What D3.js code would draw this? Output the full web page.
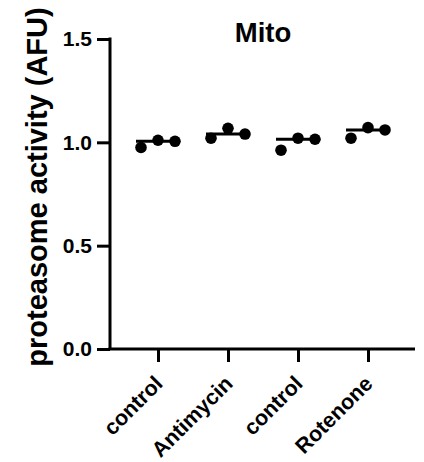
<!DOCTYPE html>
<html lang="en">
<head>
    <meta charset="UTF-8">
    <title>Mito proteasome activity</title>
    <script src="https://d3js.org/d3.v7.min.js"></script>
    <style>
        body {
            margin: 0;
            background: #fff;
            font-family: Arial, "Liberation Sans", sans-serif;
        }
        text {
            font-weight: bold;
            fill: #000;
        }
    </style>
</head>
<body>
    <div id="chart"></div>
    <script>
        const categories = ["control", "Antimycin", "control", "Rotenone"];
        const replicates = [
            [0.975, 1.010, 1.005],
            [1.020, 1.068, 1.040],
            [0.962, 1.020, 1.015],
            [1.020, 1.071, 1.060]
        ];
        const yTicks = [0.0, 0.5, 1.0, 1.5];

        const W = 424, H = 462;
        const plot = { left: 110, right: 415, top: 39, bottom: 349 };

        const svg = d3.select("#chart")
            .append("svg")
            .attr("width", W)
            .attr("height", H);

        const y = d3.scaleLinear()
            .domain([0, 1.5])
            .range([plot.bottom, plot.top]);

        const x = d3.scalePoint()
            .domain(d3.range(categories.length))
            .range([158, 368]);

        const jitter = d3.scalePoint()
            .domain([0, 1, 2])
            .range([-17, 17]);

        // y axis
        const yAxis = svg.append("g")
            .attr("transform", `translate(${plot.left},0)`)
            .call(d3.axisLeft(y)
                .tickValues(yTicks)
                .tickFormat(d3.format(".1f"))
                .tickSize(13)
                .tickSizeOuter(0)
                .tickPadding(5));
        yAxis.selectAll("path, line").attr("stroke", "#000").attr("stroke-width", 3);
        yAxis.select(".domain").attr("d", `M0,${plot.top - 1.5}V${plot.bottom}`);
        yAxis.selectAll("text")
            .style("font-size", "21px")
            .style("font-family", "Arial, 'Liberation Sans', sans-serif");

        // x axis
        const xAxis = svg.append("g")
            .attr("transform", `translate(0,${plot.bottom})`)
            .call(d3.axisBottom(x)
                .tickSize(13)
                .tickSizeOuter(0)
                .tickFormat(""));
        xAxis.selectAll("path, line").attr("stroke", "#000").attr("stroke-width", 3);
        xAxis.select(".domain").attr("d", `M${plot.left - 1.5},0H${plot.right}`);

        svg.append("g")
            .selectAll("text")
            .data(categories)
            .join("text")
            .attr("transform", (d, i) => `translate(${x(i) + 6},385) rotate(-45)`)
            .attr("text-anchor", "end")
            .style("font-size", "21.5px")
            .text(d => d);

        // points
        const groups = svg.append("g")
            .selectAll("g")
            .data(replicates)
            .join("g");

        groups.selectAll("circle")
            .data((d, i) => d.map((v, j) => ({ v, i, j })))
            .join("circle")
            .attr("cx", d => x(d.i) + jitter(d.j))
            .attr("cy", d => y(d.v))
            .attr("r", 5.8)
            .attr("fill", "#000");

        // median lines
        groups.append("line")
            .attr("x1", (d, i) => x(i) - 22)
            .attr("x2", (d, i) => x(i) + 20)
            .attr("y1", d => y(d3.median(d)))
            .attr("y2", d => y(d3.median(d)))
            .attr("stroke", "#000")
            .attr("stroke-width", 3);

        // title
        svg.append("text")
            .attr("x", 263)
            .attr("y", 42)
            .attr("text-anchor", "middle")
            .style("font-size", "27.5px")
            .text("Mito");

        // y label
        svg.append("text")
            .attr("transform", "translate(47,187) rotate(-90)")
            .attr("text-anchor", "middle")
            .style("font-size", "29px")
            .text("proteasome activity (AFU)");
    </script>
</body>
</html>
